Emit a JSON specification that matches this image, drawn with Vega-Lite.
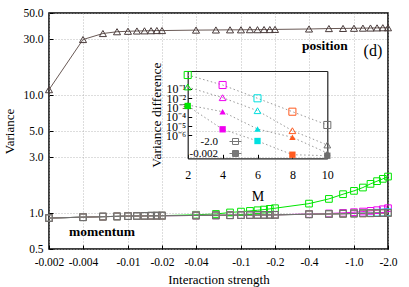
{
  "$schema": "https://vega.github.io/schema/vega-lite/v6.json",
  "width": 339,
  "height": 236,
  "autosize": "none",
  "padding": {"left": 49, "top": 13, "right": 21, "bottom": 38},
  "config": {
    "font": "Liberation Serif",
    "view": {"stroke": "#000", "strokeWidth": 1.5},
    "axis": {"labelFont": "Liberation Serif", "titleFont": "Liberation Serif", "labelFontSize": 11.5, "titleFontSize": 13, "titleFontWeight": "normal", "labelColor": "#000", "titleColor": "#000", "tickColor": "#000", "domainColor": "#222", "domainWidth": 1.2, "gridColor": "#aaa", "gridDash": [1, 2], "gridWidth": 0.8, "labelFlush": false, "labelOverlap": false},
    "legend": {"labelFont": "Liberation Serif", "labelFontSize": 11.5, "labelColor": "#000"},
    "text": {"font": "Liberation Serif"}
  },
  "datasets": {
    "momentum": [
      {"M":"M=2","g":0.002,"v":0.915},{"M":"M=2","g":0.004,"v":0.93},{"M":"M=2","g":0.006,"v":0.94},{"M":"M=2","g":0.008,"v":0.945},{"M":"M=2","g":0.01,"v":0.95},{"M":"M=2","g":0.012,"v":0.952},{"M":"M=2","g":0.014,"v":0.954},{"M":"M=2","g":0.016,"v":0.956},{"M":"M=2","g":0.018,"v":0.957},{"M":"M=2","g":0.02,"v":0.958},{"M":"M=2","g":0.04,"v":0.975},{"M":"M=2","g":0.06,"v":0.99},{"M":"M=2","g":0.08,"v":1.02},{"M":"M=2","g":0.1,"v":1.037},{"M":"M=2","g":0.12,"v":1.051},{"M":"M=2","g":0.14,"v":1.065},{"M":"M=2","g":0.16,"v":1.079},{"M":"M=2","g":0.18,"v":1.094},{"M":"M=2","g":0.2,"v":1.108},{"M":"M=2","g":0.4,"v":1.212},{"M":"M=2","g":0.6,"v":1.329},{"M":"M=2","g":0.8,"v":1.457},{"M":"M=2","g":1.0,"v":1.555},{"M":"M=2","g":1.2,"v":1.659},{"M":"M=2","g":1.4,"v":1.782},{"M":"M=2","g":1.6,"v":1.879},{"M":"M=2","g":1.8,"v":1.965},{"M":"M=2","g":2.0,"v":2.056},
      {"M":"M=4","g":0.002,"v":0.915},{"M":"M=4","g":0.004,"v":0.93},{"M":"M=4","g":0.006,"v":0.94},{"M":"M=4","g":0.008,"v":0.945},{"M":"M=4","g":0.01,"v":0.95},{"M":"M=4","g":0.012,"v":0.952},{"M":"M=4","g":0.014,"v":0.954},{"M":"M=4","g":0.016,"v":0.956},{"M":"M=4","g":0.018,"v":0.957},{"M":"M=4","g":0.02,"v":0.958},{"M":"M=4","g":0.04,"v":0.962},{"M":"M=4","g":0.06,"v":0.965},{"M":"M=4","g":0.08,"v":0.967},{"M":"M=4","g":0.1,"v":0.969},{"M":"M=4","g":0.12,"v":0.97},{"M":"M=4","g":0.14,"v":0.971},{"M":"M=4","g":0.16,"v":0.972},{"M":"M=4","g":0.18,"v":0.973},{"M":"M=4","g":0.2,"v":0.974},{"M":"M=4","g":0.4,"v":0.99},{"M":"M=4","g":0.6,"v":1.0},{"M":"M=4","g":0.8,"v":1.012},{"M":"M=4","g":1.0,"v":1.025},{"M":"M=4","g":1.2,"v":1.038},{"M":"M=4","g":1.4,"v":1.052},{"M":"M=4","g":1.6,"v":1.066},{"M":"M=4","g":1.8,"v":1.085},{"M":"M=4","g":2.0,"v":1.108},
      {"M":"M=6","g":0.002,"v":0.915},{"M":"M=6","g":0.004,"v":0.93},{"M":"M=6","g":0.006,"v":0.94},{"M":"M=6","g":0.008,"v":0.945},{"M":"M=6","g":0.01,"v":0.95},{"M":"M=6","g":0.012,"v":0.952},{"M":"M=6","g":0.014,"v":0.954},{"M":"M=6","g":0.016,"v":0.956},{"M":"M=6","g":0.018,"v":0.957},{"M":"M=6","g":0.02,"v":0.958},{"M":"M=6","g":0.04,"v":0.962},{"M":"M=6","g":0.06,"v":0.965},{"M":"M=6","g":0.08,"v":0.967},{"M":"M=6","g":0.1,"v":0.969},{"M":"M=6","g":0.12,"v":0.97},{"M":"M=6","g":0.14,"v":0.971},{"M":"M=6","g":0.16,"v":0.972},{"M":"M=6","g":0.18,"v":0.973},{"M":"M=6","g":0.2,"v":0.974},{"M":"M=6","g":0.4,"v":0.985},{"M":"M=6","g":0.6,"v":0.99},{"M":"M=6","g":0.8,"v":0.995},{"M":"M=6","g":1.0,"v":1.0},{"M":"M=6","g":1.2,"v":1.008},{"M":"M=6","g":1.4,"v":1.012},{"M":"M=6","g":1.6,"v":1.016},{"M":"M=6","g":1.8,"v":1.02},{"M":"M=6","g":2.0,"v":1.025},
      {"M":"M=8","g":0.002,"v":0.915},{"M":"M=8","g":0.004,"v":0.93},{"M":"M=8","g":0.006,"v":0.94},{"M":"M=8","g":0.008,"v":0.945},{"M":"M=8","g":0.01,"v":0.95},{"M":"M=8","g":0.012,"v":0.952},{"M":"M=8","g":0.014,"v":0.954},{"M":"M=8","g":0.016,"v":0.956},{"M":"M=8","g":0.018,"v":0.957},{"M":"M=8","g":0.02,"v":0.958},{"M":"M=8","g":0.04,"v":0.962},{"M":"M=8","g":0.06,"v":0.965},{"M":"M=8","g":0.08,"v":0.967},{"M":"M=8","g":0.1,"v":0.969},{"M":"M=8","g":0.12,"v":0.97},{"M":"M=8","g":0.14,"v":0.971},{"M":"M=8","g":0.16,"v":0.972},{"M":"M=8","g":0.18,"v":0.973},{"M":"M=8","g":0.2,"v":0.974},{"M":"M=8","g":0.4,"v":0.985},{"M":"M=8","g":0.6,"v":0.99},{"M":"M=8","g":0.8,"v":0.995},{"M":"M=8","g":1.0,"v":1.0},{"M":"M=8","g":1.2,"v":1.003},{"M":"M=8","g":1.4,"v":1.005},{"M":"M=8","g":1.6,"v":1.007},{"M":"M=8","g":1.8,"v":1.009},{"M":"M=8","g":2.0,"v":1.01},
      {"M":"M=12","g":0.002,"v":0.915},{"M":"M=12","g":0.004,"v":0.93},{"M":"M=12","g":0.006,"v":0.94},{"M":"M=12","g":0.008,"v":0.945},{"M":"M=12","g":0.01,"v":0.95},{"M":"M=12","g":0.012,"v":0.952},{"M":"M=12","g":0.014,"v":0.954},{"M":"M=12","g":0.016,"v":0.956},{"M":"M=12","g":0.018,"v":0.957},{"M":"M=12","g":0.02,"v":0.958},{"M":"M=12","g":0.04,"v":0.962},{"M":"M=12","g":0.06,"v":0.965},{"M":"M=12","g":0.08,"v":0.967},{"M":"M=12","g":0.1,"v":0.969},{"M":"M=12","g":0.12,"v":0.97},{"M":"M=12","g":0.14,"v":0.971},{"M":"M=12","g":0.16,"v":0.972},{"M":"M=12","g":0.18,"v":0.973},{"M":"M=12","g":0.2,"v":0.974},{"M":"M=12","g":0.4,"v":0.985},{"M":"M=12","g":0.6,"v":0.99},{"M":"M=12","g":0.8,"v":0.995},{"M":"M=12","g":1.0,"v":1.0},{"M":"M=12","g":1.2,"v":1.003},{"M":"M=12","g":1.4,"v":1.005},{"M":"M=12","g":1.6,"v":1.007},{"M":"M=12","g":1.8,"v":1.009},{"M":"M=12","g":2.0,"v":1.01},
      {"M":"M=10","g":0.002,"v":0.915},{"M":"M=10","g":0.004,"v":0.93},{"M":"M=10","g":0.006,"v":0.94},{"M":"M=10","g":0.008,"v":0.945},{"M":"M=10","g":0.01,"v":0.95},{"M":"M=10","g":0.012,"v":0.952},{"M":"M=10","g":0.014,"v":0.954},{"M":"M=10","g":0.016,"v":0.956},{"M":"M=10","g":0.018,"v":0.957},{"M":"M=10","g":0.02,"v":0.958},{"M":"M=10","g":0.04,"v":0.962},{"M":"M=10","g":0.06,"v":0.965},{"M":"M=10","g":0.08,"v":0.967},{"M":"M=10","g":0.1,"v":0.969},{"M":"M=10","g":0.12,"v":0.97},{"M":"M=10","g":0.14,"v":0.971},{"M":"M=10","g":0.16,"v":0.972},{"M":"M=10","g":0.18,"v":0.973},{"M":"M=10","g":0.2,"v":0.974},{"M":"M=10","g":0.4,"v":0.985},{"M":"M=10","g":0.6,"v":0.99},{"M":"M=10","g":0.8,"v":0.995},{"M":"M=10","g":1.0,"v":1.0},{"M":"M=10","g":1.2,"v":1.003},{"M":"M=10","g":1.4,"v":1.005},{"M":"M=10","g":1.6,"v":1.007},{"M":"M=10","g":1.8,"v":1.009},{"M":"M=10","g":2.0,"v":1.01}
    ],
    "position": [
      {"g":0.002,"v":11.2},{"g":0.004,"v":29.8},{"g":0.006,"v":33.5},{"g":0.008,"v":34.7},{"g":0.01,"v":35.0},{"g":0.012,"v":35.2},{"g":0.014,"v":35.3},{"g":0.016,"v":35.4},{"g":0.018,"v":35.5},{"g":0.02,"v":35.5},{"g":0.04,"v":35.8},{"g":0.06,"v":35.9},{"g":0.08,"v":36.0},{"g":0.1,"v":36.0},{"g":0.12,"v":36.1},{"g":0.14,"v":36.1},{"g":0.16,"v":36.2},{"g":0.18,"v":36.2},{"g":0.2,"v":36.3},{"g":0.4,"v":36.6},{"g":0.6,"v":36.9},{"g":0.8,"v":37.0},{"g":1.0,"v":37.1},{"g":1.2,"v":37.2},{"g":1.4,"v":37.3},{"g":1.6,"v":37.4},{"g":1.8,"v":37.5},{"g":2.0,"v":37.5}
    ],
    "labels": [
      {"label": "position", "g": 0.553, "v": 26.5},
      {"label": "(d)", "g": 1.47, "v": 24},
      {"label": "momentum", "g": 0.00589, "v": 0.697}
    ],
    "inset": [
      {"m":2,"M":"M=2","q":"momentum","s":"-2.0","d":3.2},{"m":2,"M":"M=2","q":"position","s":"-2.0","d":0.164},{"m":2,"M":"M=2","q":"position","s":"-0.002","d":0.00191},{"m":2,"M":"M=2","q":"momentum","s":"-0.002","d":0.00149},
      {"m":4,"M":"M=4","q":"momentum","s":"-2.0","d":0.269},{"m":4,"M":"M=4","q":"position","s":"-2.0","d":0.0116},{"m":4,"M":"M=4","q":"position","s":"-0.002","d":0.000362},{"m":4,"M":"M=4","q":"momentum","s":"-0.002","d":0.00000464},
      {"m":6,"M":"M=6","q":"momentum","s":"-2.0","d":0.01},{"m":6,"M":"M=6","q":"position","s":"-2.0","d":0.000464},{"m":6,"M":"M=6","q":"position","s":"-0.002","d":0.000005},{"m":6,"M":"M=6","q":"momentum","s":"-0.002","d":0.000000256},
      {"m":8,"M":"M=8","q":"momentum","s":"-2.0","d":0.000362},{"m":8,"M":"M=8","q":"position","s":"-2.0","d":0.00000328},{"m":8,"M":"M=8","q":"position","s":"-0.002","d":0.00000064},{"m":8,"M":"M=8","q":"momentum","s":"-0.002","d":0.0000000086},
      {"m":10,"M":"M=10","q":"momentum","s":"-2.0","d":0.0000135},{"m":10,"M":"M=10","q":"position","s":"-2.0","d":0.000000095},{"m":10,"M":"M=10","q":"position","s":"-0.002","d":0.0000000131},{"m":10,"M":"M=10","q":"momentum","s":"-0.002","d":0.0000000067}
    ]
  },
  "layer": [
    {
      "encoding": {
        "x": {"field": "g", "type": "quantitative", "scale": {"type": "log", "domain": [0.002, 2], "nice": false},
          "axis": {"title": "Interaction strength", "values": [0.002, 0.004, 0.01, 0.02, 0.04, 0.1, 0.2, 0.4, 1, 2], "labelExpr": "'-' + (datum.value >= 1 ? format(datum.value, '.1f') : format(datum.value, '~g'))", "grid": true, "domain": false, "tickSize": -4, "labelPadding": 11, "titlePadding": 6}},
        "y": {"field": "v", "type": "quantitative", "scale": {"type": "log", "domain": [0.5, 50], "nice": false},
          "axis": {"title": "Variance", "values": [0.5, 1, 3, 5, 10, 30, 50], "format": ".1f", "grid": true, "domain": false, "tickSize": -4, "labelPadding": 10, "titlePadding": 6}}
      },
      "layer": [
        {"data": {"name": "momentum"}, "mark": {"type": "line", "strokeWidth": 1},
          "encoding": {"color": {"field": "M", "type": "nominal", "sort": null, "legend": null,
            "scale": {"domain": ["M=2", "M=4", "M=6", "M=8", "M=10", "M=12"], "range": ["#00e600", "#f000f0", "#00e0e0", "#ff5a1f", "#6e6e6e", "#a0a0a0"]}}}},
        {"data": {"name": "momentum"}, "mark": {"type": "point", "shape": "square", "filled": false, "size": 45, "strokeWidth": 1, "opacity": 1},
          "encoding": {"color": {"field": "M", "type": "nominal", "sort": null, "legend": null}}},
        {"data": {"name": "momentum"}, "transform": [{"filter": "false"}], "mark": {"type": "point", "filled": false, "strokeWidth": 1, "opacity": 1},
          "encoding": {"color": {"field": "M", "type": "nominal", "sort": null,
            "legend": {"title": null, "orient": "none", "legendX": 48, "legendY": 83, "labelAlign": "right", "labelOffset": -18, "symbolSize": 144, "rowPadding": 0, "padding": 0,
              "symbolType": "M-1,0H1M-0.5,-0.5H0.5V0.5H-0.5Z", "symbolStrokeWidth": 1, "symbolFillColor": "transparent"}}}},
        {"data": {"name": "position"}, "mark": {"type": "line", "strokeWidth": 1, "color": "#6a5a56"}, "encoding": {}},
        {"data": {"name": "position"}, "mark": {"type": "point", "shape": "triangle-up", "filled": false, "size": 50, "strokeWidth": 1, "color": "#4a3c3c", "opacity": 1}, "encoding": {}},
        {"data": {"name": "labels"}, "transform": [{"filter": "datum.label == 'position'"}],
          "mark": {"type": "text", "fontWeight": "bold", "fontSize": 13.5, "align": "center", "baseline": "middle"},
          "encoding": {"text": {"field": "label"}}},
        {"data": {"name": "labels"}, "transform": [{"filter": "datum.label == '(d)'"}],
          "mark": {"type": "text", "fontSize": 16, "align": "center", "baseline": "middle"},
          "encoding": {"text": {"field": "label"}}},
        {"data": {"name": "labels"}, "transform": [{"filter": "datum.label == 'momentum'"}],
          "mark": {"type": "text", "fontWeight": "bold", "fontSize": 13.5, "align": "center", "baseline": "middle"},
          "encoding": {"text": {"field": "label"}}}
      ]
    },
    {
      "data": {"name": "inset"},
      "encoding": {
        "x": {"field": "m", "type": "quantitative", "axis": null},
        "y": {"field": "d", "type": "quantitative", "axis": null}
      },
      "layer": [
        {"mark": {"type": "line", "color": "#999", "strokeWidth": 1, "strokeDash": [1.5, 2.5]},
          "encoding": {
            "x": {"field": "m", "type": "quantitative", "scale": {"domain": [2, 10], "range": [138.7, 278.3], "nice": false, "zero": false},
              "axis": {"orient": "bottom", "offset": -90.7, "title": "M", "titleFontSize": 14, "values": [2, 4, 6, 8, 10], "grid": false, "domain": true, "tickSize": -4, "labelPadding": 15, "titlePadding": 9, "labelFontSize": 12}},
            "y": {"field": "d", "type": "quantitative", "scale": {"type": "log", "domain": [3.53e-9, 8.62], "range": [145.3, 58], "nice": false},
              "axis": {"orient": "left", "offset": -138.7, "title": "Variance difference", "titleFontSize": 13.5, "values": [0.1, 0.01, 0.001, 0.0001, 0.00001, 0.000001], "labelExpr": "'10' + ['⁰','⁻¹','⁻²','⁻³','⁻⁴','⁻⁵','⁻⁶'][-round(log(datum.value)/LN10)]", "grid": false, "domain": true, "tickSize": -4, "labelPadding": 6, "titlePadding": 2, "labelFontSize": 12}},
            "detail": [{"field": "q"}, {"field": "s"}]}},
        {"transform": [{"filter": "datum.q == 'momentum' && datum.s == '-2.0'"}],
          "mark": {"type": "point", "shape": "square", "filled": false, "size": 50, "strokeWidth": 1, "opacity": 1},
          "encoding": {
            "x": {"field": "m", "type": "quantitative", "axis": {"orient": "top", "offset": -58, "title": null, "labels": false, "ticks": false, "grid": false, "domain": true}},
            "y": {"field": "d", "type": "quantitative", "axis": {"orient": "right", "offset": -60.7, "title": null, "labels": false, "ticks": false, "grid": false, "domain": true}},
            "color": {"field": "M", "type": "nominal", "legend": null}}},
        {"transform": [{"filter": "datum.q == 'momentum' && datum.s == '-0.002'"}],
          "mark": {"type": "point", "shape": "square", "filled": true, "size": 40, "opacity": 1},
          "encoding": {"color": {"field": "M", "type": "nominal", "legend": null}}},
        {"transform": [{"filter": "datum.q == 'position' && datum.s == '-2.0'"}],
          "mark": {"type": "point", "shape": "triangle-up", "filled": false, "size": 45, "strokeWidth": 1, "opacity": 1},
          "encoding": {"color": {"field": "M", "type": "nominal", "legend": null}}},
        {"transform": [{"filter": "datum.q == 'position' && datum.s == '-0.002'"}],
          "mark": {"type": "point", "shape": "triangle-up", "filled": true, "size": 40, "opacity": 1},
          "encoding": {"color": {"field": "M", "type": "nominal", "legend": null}}},
        {"transform": [{"filter": "false"}],
          "mark": {"type": "point", "filled": false, "strokeWidth": 1, "color": "#777", "opacity": 1},
          "encoding": {"shape": {"field": "s", "type": "nominal",
            "scale": {"domain": ["-2.0", "-0.002"], "range": ["M-1,0H1M-0.5,-0.5H0.5V0.5H-0.5Z", "M-1,0H1M-0.5,-0.5H0.5V0.5H-0.5ZM-0.5,-0.33H0.5M-0.5,-0.17H0.5M-0.5,0.17H0.5M-0.5,0.33H0.5"]},
            "legend": {"title": null, "orient": "none", "legendX": 180, "legendY": 122, "labelAlign": "right", "labelOffset": -24, "symbolSize": 144, "rowPadding": -3.2, "padding": 0, "labelFontSize": 11, "symbolStrokeWidth": 1}}}}
      ],
      "resolve": {"axis": {"x": "independent", "y": "independent"}}
    }
  ],
  "resolve": {"scale": {"x": "independent", "y": "independent"}}
}
